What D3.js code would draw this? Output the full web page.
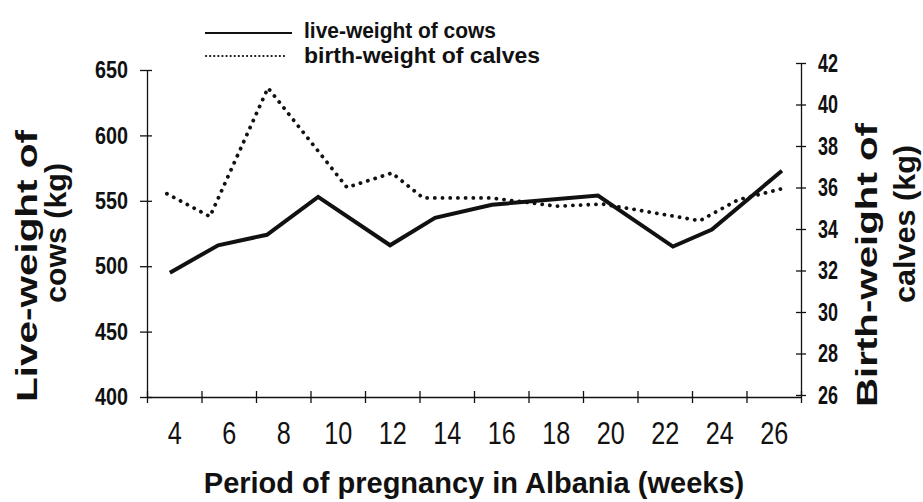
<!DOCTYPE html>
<html>
<head>
<script type="text/javascript" src="https://cdn.jsdelivr.net/npm/d3@7/dist/d3.min.js"></script>
<style>
  body { margin: 0; background: white; }
</style>
</head>
<body>
<script>

var width = 923,
    height = 502;

// x axis categories (weeks)
var weeks = [4, 6, 8, 10, 12, 14, 16, 18, 20, 22, 24, 26];

// live-weight of cows (kg)
var cowWeeks  = [3.84, 5.61, 7.40, 9.28, 11.92, 13.57, 15.66, 19.55, 22.30, 23.73, 26.30];
var cowWeight = [495, 516, 524, 553, 516, 537, 547, 554, 515, 528, 573];

// birth-weight of calves (kg)
var calfWeeks  = [3.73, 5.31, 7.44, 10.34, 11.99, 13.13, 15.59, 18.05, 19.73, 23.29, 24.68, 26.48];
var calfWeight = [35.7, 34.6, 40.8, 36.0, 36.7, 35.5, 35.5, 35.1, 35.2, 34.4, 35.4, 36.0];

var leftTicks  = [400, 450, 500, 550, 600, 650];
var rightTicks = [26, 28, 30, 32, 34, 36, 38, 40, 42];

// no narrow font installed, so squeeze the glyphs with textLength
var font = "'Liberation Sans', Arial, sans-serif";
function squeeze(sel, perChar) {
  sel.attr("lengthAdjust", "spacingAndGlyphs")
     .attr("textLength", function () { return this.textContent.length * perChar; });
}

var svg = d3.select("body")
            .append("svg")
            .attr("width", width)
            .attr("height", height)
            .style("background", "white");

var x  = d3.scaleLinear().domain([3, 27]).range([147, 801]);
var yL = d3.scaleLinear().domain([400, 650]).range([397, 70]);
var yR = d3.scaleLinear().domain([26, 42]).range([395, 63]);

// left axis
var gL = svg.append("g")
            .attr("transform", "translate(" + x(3) + ",0)")
            .call(d3.axisLeft(yL).tickValues(leftTicks).tickSizeInner(7).tickSizeOuter(0));
gL.selectAll(".tick line").attr("x1", 5);
gL.selectAll(".tick text")
  .attr("x", -19)
  .style("font-family", font)
  .style("font-weight", "bold")
  .style("font-size", "24px")
  .call(squeeze, 11);

// right axis
var gR = svg.append("g")
            .attr("transform", "translate(" + x(27) + ",0)")
            .call(d3.axisRight(yR).tickValues(rightTicks).tickSizeInner(5).tickSizeOuter(0));
gR.selectAll(".tick line").attr("x1", -5);
gR.selectAll(".tick text")
  .attr("x", 17)
  .style("font-family", font)
  .style("font-weight", "bold")
  .style("font-size", "25px")
  .call(squeeze, 10);

// bottom axis: ticks between categories, labels in the middle
var gB = svg.append("g")
            .attr("transform", "translate(0," + yL(400) + ")")
            .call(d3.axisBottom(x).tickValues(d3.range(3, 28, 2)).tickSizeInner(6).tickSizeOuter(0).tickFormat(""));
gB.selectAll(".tick line").attr("y1", -6);

var gBL = svg.append("g")
             .attr("transform", "translate(0," + yL(400) + ")")
             .call(d3.axisBottom(x).tickValues(weeks).tickSize(0));
gBL.select(".domain").remove();
gBL.selectAll(".tick text")
   .attr("y", 47)
   .attr("dy", 0)
   .style("font-family", font)
   .style("font-size", "32px")
   .call(squeeze, 14);

svg.selectAll(".domain, .tick line")
   .attr("stroke", "#111")
   .attr("stroke-width", 1.3);
svg.selectAll(".tick text").attr("fill", "#111");

// lines
var cowData  = cowWeeks.map(function (d, i) { return [d, cowWeight[i]]; });
var calfData = calfWeeks.map(function (d, i) { return [d, calfWeight[i]]; });

var cowLine  = d3.line().x(function (d) { return x(d[0]); }).y(function (d) { return yL(d[1]); });
var calfLine = d3.line().x(function (d) { return x(d[0]); }).y(function (d) { return yR(d[1]); });

svg.append("path")
   .datum(calfData)
   .attr("d", calfLine)
   .attr("fill", "none")
   .attr("stroke", "#111")
   .attr("stroke-width", 3.8)
   .attr("stroke-linecap", "round")
   .attr("stroke-dasharray", "0.1,7.6");

svg.append("path")
   .datum(cowData)
   .attr("d", cowLine)
   .attr("fill", "none")
   .attr("stroke", "#111")
   .attr("stroke-width", 4)
   .attr("stroke-linejoin", "miter");

// legend
var legend = svg.append("g");
legend.append("line")
      .attr("x1", 205).attr("x2", 292)
      .attr("y1", 33).attr("y2", 33)
      .attr("stroke", "#111")
      .attr("stroke-width", 2.2);
legend.append("line")
      .attr("x1", 206).attr("x2", 287)
      .attr("y1", 56).attr("y2", 56)
      .attr("stroke", "#111")
      .attr("stroke-width", 2.2)
      .attr("stroke-linecap", "round")
      .attr("stroke-dasharray", "0.1,4");
legend.append("text")
      .attr("x", 304).attr("y", 38)
      .attr("textLength", 192)
      .text("live-weight of cows");
legend.append("text")
      .attr("x", 304).attr("y", 63)
      .attr("textLength", 236)
      .text("birth-weight of calves");
legend.selectAll("text")
      .attr("lengthAdjust", "spacingAndGlyphs")
      .style("font-family", font)
      .style("font-weight", "bold")
      .style("font-size", "22px")
      .attr("fill", "#111");

// axis titles
function vtitle(txt, cx, cy, len) {
  svg.append("text")
     .attr("transform", "translate(" + cx + "," + cy + ") rotate(-90)")
     .attr("text-anchor", "middle")
     .attr("textLength", len)
     .attr("lengthAdjust", "spacingAndGlyphs")
     .style("font-family", font)
     .style("font-weight", "bold")
     .style("font-size", "29px")
     .attr("fill", "#111")
     .text(txt);
}
vtitle("Live-weight of", 37, 266, 272);
vtitle("cows (kg)", 66, 233, 140);
vtitle("Birth-weight of", 877, 265, 284);
vtitle("calves (kg)", 915, 224, 158);

svg.append("text")
   .attr("x", (x(3) + x(27)) / 2)
   .attr("y", 493)
   .attr("text-anchor", "middle")
   .style("font-family", font)
   .style("font-weight", "bold")
   .style("font-size", "29px")
   .attr("fill", "#111")
   .text("Period of pregnancy in Albania (weeks)");

</script>
</body>
</html>
